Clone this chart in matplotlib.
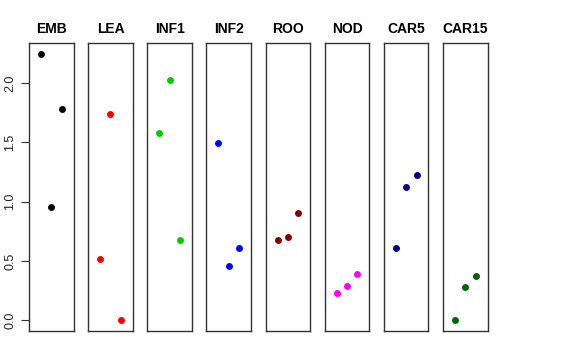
import matplotlib
matplotlib.use("Agg")
import matplotlib.pyplot as plt

groups = ["EMB", "LEA", "INF1", "INF2", "ROO", "NOD", "CAR5", "CAR15"]
colors = ["#000000", "#FF0000", "#00CD00", "#0000FF", "#8B0000", "#FF00FF", "#00008B", "#006400"]
x_pos = [1, 2, 3]
values = [
    [2.247, 0.955, 1.784],
    [0.514, 1.742, 0.000],
    [1.576, 2.028, 0.674],
    [1.492, 0.461, 0.612],
    [0.674, 0.702, 0.907],
    [0.233, 0.287, 0.393],
    [0.612, 1.124, 1.225],
    [0.000, 0.281, 0.376],
]
yticks = [0.0, 0.5, 1.0, 1.5, 2.0]

plt.rcParams['font.family'] = ['Liberation Sans', 'DejaVu Sans']
fig = plt.figure(figsize=(5.76, 3.6), dpi=100)
W, H = 576, 360
left0, pw, step = 29.0, 44.6, 59.15
top, bottom = 43.0, 331.0
ymax_data = max(max(v) for v in values)
ymin_data = 0.0
pad = 0.04 * (ymax_data - ymin_data)
for i, (g, c, v) in enumerate(zip(groups, colors, values)):
    l = left0 + i * step
    ax = fig.add_axes([l / W, (H - bottom) / H, pw / W, (bottom - top) / H])
    ax.plot(x_pos, v, 'o', color=c, markersize=5, markeredgewidth=0)
    ax.set_xlim(0 - 0.16, 4 + 0.16)
    ax.set_ylim(ymin_data - pad, ymax_data + pad)
    ax.set_xticks([])
    for s in ax.spines.values():
        s.set_color('#333333')
        s.set_linewidth(1.0)
    ax.set_title(g, fontsize=10, fontweight='bold', pad=7)
    if i == 0:
        ax.set_yticks(yticks)
        ax.set_yticklabels([f"{t:.1f}" for t in yticks], rotation=90, va='center', fontsize=9)
        ax.tick_params(axis='y', length=6, width=0.8, pad=3, colors='#333333', labelcolor='#222222')
    else:
        ax.set_yticks([])

fig.savefig("out.png", dpi=100)
